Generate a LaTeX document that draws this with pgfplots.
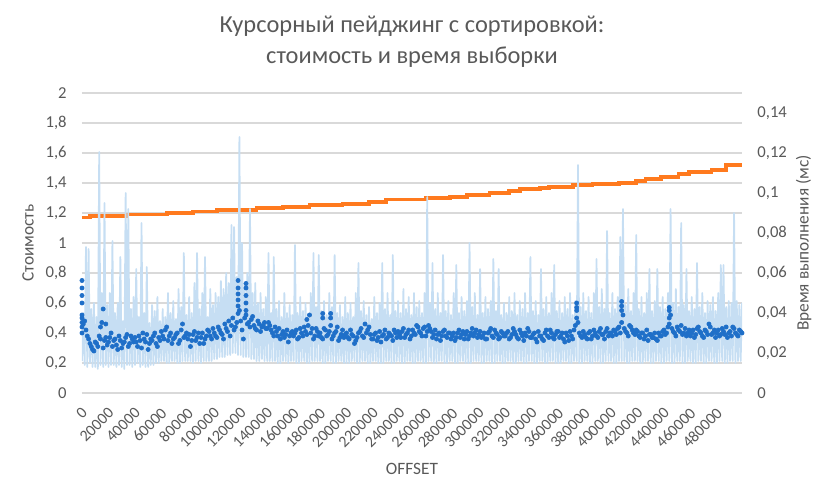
\documentclass[border=0pt]{standalone}
\usepackage{fontspec}
\setmainfont{Carlito}
\usepackage{pgfplots}
\pgfplotsset{compat=1.18}
\usetikzlibrary{calc}
\definecolor{txt}{HTML}{595959}
\definecolor{gridc}{HTML}{D9D9D9}
\definecolor{costline}{HTML}{FF7A1E}
\definecolor{timeband}{HTML}{C6DEF3}
\definecolor{timedots}{HTML}{1F6FC8}

% x in thousands of OFFSET
% cost (left axis), step line
\pgfplotstableread{
x y
0 1.17
6 1.18
34 1.19
64 1.20
84 1.21
102 1.22
132 1.233
152 1.24
172 1.253
197 1.26
217 1.273
230 1.29
260 1.30
278 1.307
291 1.32
308 1.333
323 1.347
331 1.36
346 1.367
353 1.373
371 1.387
386 1.393
406 1.40
419 1.413
426 1.427
438 1.44
451 1.46
459 1.473
476 1.487
487 1.52
499 1.52
}\cost

\pgfplotsset{
  base/.style={
    scale only axis, width=495pt, height=225pt,
    xmin=0, xmax=499,
    axis line style={draw=none}, major tick length=0pt,
    tick label style={font=\fontsize{12.5}{14}\selectfont, text=txt},
    label style={font=\fontsize{13}{15}\selectfont, text=txt},
    /pgf/number format/fixed,
    /pgf/number format/assume math mode=true,
    /pgf/number format/use comma,
    /pgf/number format/1000 sep={},
    scaled ticks=false,
  },
}

\begin{document}
\begin{tikzpicture}
\begin{axis}[base, name=ax,
  ymin=0, ymax=2,
  ytick={0,0.2,0.4,0.6,0.8,1,1.2,1.4,1.6,1.8,2},
  ymajorgrids, grid style={draw=gridc, line width=0.8pt},
  xtick={0,20,...,480},
  xticklabels={0,20000,40000,60000,80000,100000,120000,140000,160000,180000,200000,220000,240000,260000,280000,300000,320000,340000,360000,380000,400000,420000,440000,460000,480000},
  xticklabel style={font=\fontsize{12}{14}\selectfont, xshift=2pt, yshift=-13pt, rotate=45, anchor=east, inner sep=0pt},
  yticklabel style={xshift=-8pt},
  xlabel={OFFSET}, xlabel style={yshift=-7pt},
  ylabel={Стоимость}, ylabel style={yshift=2pt},
  title={Курсорный пейджинг с сортировкой:\\стоимость и время выборки},
  title style={font=\fontsize{18.3}{23}\selectfont, text=txt, align=center, yshift=10pt},
]
\addplot[costline, line width=2.8pt, const plot, mark=none] table {\cost};
\end{axis}
\begin{axis}[base,
  ymin=0, ymax=0.15,
  ytick={0,0.02,0.04,0.06,0.08,0.1,0.12,0.14},
  axis y line*=right, axis x line=none,
  yticklabel style={xshift=8pt},
  ylabel={Время выполнения (мс)},
]
% execution time, ms
\addplot[timeband, line width=1.3pt, mark=none, line join=round] coordinates {
(0,.016)(1,.04)(2,.014)(3,.073)(4,.013)(5,.072)(6,.015)(7,.042)(8,.013)(9,.045)(10,.013)(11,.038)(12,.012)(13,.1205)(14,.014)(15,.05)(16,.013)(17,.095)(18,.014)(19,.044)
(20,.013)(21,.05)(22,.014)(23,.076)(24,.014)(25,.04)(26,.013)(27,.045)(28,.014)(29,.068)(30,.013)(31,.036)(32,.012)(33,.10)(34,.014)(35,.092)(36,.014)(37,.042)(38,.013)(39,.048)
(40,.014)(41,.062)(42,.015)(43,.038)(44,.013)(45,.085)(46,.014)(47,.04)(48,.013)(49,.063)(50,.013)(51,.035)(52,.014)(53,.044)(54,.014)(55,.041)(56,.015)(57,.048)(58,.015)(59,.036)
(60,.016)(61,.042)(62,.016)(63,.038)(64,.015)(65,.05)(66,.015)(67,.04)(68,.016)(69,.046)(70,.016)(71,.037)(72,.015)(73,.052)(74,.015)(75,.043)(76,.016)(77,.07)(78,.016)(79,.039)
(80,.016)(81,.048)(82,.016)(83,.04)(84,.015)(85,.055)(86,.016)(87,.07)(88,.016)(89,.042)(90,.015)(91,.05)(92,.016)(93,.068)(94,.016)(95,.038)(96,.016)(97,.052)(98,.016)(99,.044)
(100,.017)(101,.05)(102,.017)(103,.048)(104,.018)(105,.056)(106,.018)(107,.052)(108,.018)(109,.06)(110,.019)(111,.055)(112,.019)(113,.084)(114,.02)(115,.083)(116,.02)(117,.058)(118,.019)(119,.128)
(120,.019)(121,.075)(122,.018)(123,.055)(124,.018)(125,.06)(126,.018)(127,.092)(128,.017)(129,.05)(130,.017)(131,.055)(132,.016)(133,.045)(134,.016)(135,.05)(136,.017)(137,.042)(138,.016)(139,.048)
(140,.016)(141,.07)(142,.016)(143,.04)(144,.016)(145,.068)(146,.016)(147,.042)(148,.015)(149,.046)(150,.015)(151,.038)(152,.016)(153,.05)(154,.016)(155,.04)(156,.015)(157,.044)(158,.016)(159,.039)
(160,.016)(161,.074)(162,.015)(163,.04)(164,.015)(165,.048)(166,.016)(167,.041)(168,.016)(169,.045)(170,.015)(171,.038)(172,.015)(173,.05)(174,.016)(175,.07)(176,.016)(177,.043)(178,.016)(179,.069)
(180,.016)(181,.041)(182,.015)(183,.046)(184,.015)(185,.039)(186,.016)(187,.05)(188,.016)(189,.043)(190,.015)(191,.069)(192,.015)(193,.04)(194,.016)(195,.044)(196,.016)(197,.038)(198,.015)(199,.048)
(200,.015)(201,.04)(202,.015)(203,.045)(204,.016)(205,.038)(206,.016)(207,.05)(208,.015)(209,.065)(210,.015)(211,.041)(212,.016)(213,.046)(214,.016)(215,.039)(216,.015)(217,.043)(218,.015)(219,.037)
(220,.016)(221,.048)(222,.016)(223,.04)(224,.015)(225,.045)(226,.015)(227,.065)(228,.015)(229,.042)(230,.016)(231,.05)(232,.016)(233,.039)(234,.015)(235,.069)(236,.015)(237,.041)(238,.016)(239,.046)
(240,.016)(241,.04)(242,.015)(243,.052)(244,.015)(245,.042)(246,.016)(247,.048)(248,.016)(249,.039)(250,.015)(251,.05)(252,.015)(253,.043)(254,.016)(255,.046)(256,.016)(257,.04)(258,.015)(259,.05)
(260,.015)(261,.098)(262,.016)(263,.045)(264,.016)(265,.065)(266,.015)(267,.042)(268,.015)(269,.05)(270,.016)(271,.04)(272,.016)(273,.069)(274,.015)(275,.041)(276,.015)(277,.046)(278,.016)(279,.039)
(280,.016)(281,.05)(282,.015)(283,.064)(284,.015)(285,.04)(286,.016)(287,.048)(288,.016)(289,.041)(290,.015)(291,.046)(292,.015)(293,.075)(294,.015)(295,.043)(296,.016)(297,.05)(298,.016)(299,.039)
(300,.016)(301,.062)(302,.015)(303,.04)(304,.015)(305,.048)(306,.016)(307,.042)(308,.016)(309,.046)(310,.015)(311,.067)(312,.015)(313,.041)(314,.016)(315,.062)(316,.016)(317,.039)(318,.015)(319,.045)
(320,.015)(321,.04)(322,.016)(323,.048)(324,.016)(325,.041)(326,.015)(327,.05)(328,.015)(329,.039)(330,.016)(331,.046)(332,.016)(333,.042)(334,.015)(335,.05)(336,.015)(337,.04)(338,.016)(339,.068)
(340,.016)(341,.041)(342,.015)(343,.046)(344,.015)(345,.039)(346,.016)(347,.062)(348,.016)(349,.042)(350,.015)(351,.048)(352,.015)(353,.04)(354,.016)(355,.05)(356,.016)(357,.064)(358,.015)(359,.041)
(360,.015)(361,.046)(362,.015)(363,.04)(364,.016)(365,.048)(366,.016)(367,.042)(368,.015)(369,.05)(370,.015)(371,.039)(372,.016)(373,.046)(374,.016)(375,.114)(376,.015)(377,.043)(378,.015)(379,.05)
(380,.016)(381,.041)(382,.016)(383,.048)(384,.015)(385,.04)(386,.015)(387,.05)(388,.016)(389,.067)(390,.016)(391,.043)(392,.015)(393,.052)(394,.015)(395,.042)(396,.016)(397,.081)(398,.016)(399,.04)
(400,.016)(401,.05)(402,.015)(403,.042)(404,.015)(405,.048)(406,.016)(407,.078)(408,.016)(409,.092)(410,.016)(411,.044)(412,.015)(413,.052)(414,.015)(415,.041)(416,.016)(417,.05)(418,.016)(419,.079)
(420,.016)(421,.042)(422,.015)(423,.048)(424,.015)(425,.04)(426,.016)(427,.05)(428,.016)(429,.062)(430,.015)(431,.041)(432,.015)(433,.046)(434,.016)(435,.062)(436,.016)(437,.043)(438,.015)(439,.048)
(440,.015)(441,.042)(442,.016)(443,.05)(444,.016)(445,.092)(446,.015)(447,.045)(448,.015)(449,.052)(450,.016)(451,.043)(452,.016)(453,.085)(454,.015)(455,.044)(456,.015)(457,.062)(458,.016)(459,.041)
(460,.016)(461,.048)(462,.015)(463,.042)(464,.015)(465,.065)(466,.016)(467,.043)(468,.016)(469,.05)(470,.015)(471,.04)(472,.015)(473,.046)(474,.016)(475,.044)(476,.016)(477,.048)(478,.015)(479,.041)
(480,.015)(481,.05)(482,.016)(483,.064)(484,.016)(485,.064)(486,.015)(487,.043)(488,.015)(489,.046)(490,.016)(491,.045)(492,.016)(493,.09)(494,.015)(495,.046)(496,.016)(497,.044)(498,.016)(499,.045)
};
\end{axis}
\begin{axis}[base, ymin=0, ymax=2, axis x line=none, axis y line=none]
\addplot[only marks, mark=*, mark size=1.6pt, timedots, draw=none] coordinates {
(0,.75)(0,.70)(0,.65)(0,.60)(0,.52)(0,.47)(0,.44)(0,.40)(0,.50)
(14,.44)(16,.56)(18,.46)
(118,.75)(118,.70)(118,.66)(118,.58)(118,.53)(124,.73)(124,.70)(124,.65)(124,.60)(124,.55)
(170,.49)(182,.53)(182,.50)(188,.53)(188,.50)
(374,.60)(374,.57)(374,.55)(408,.61)(408,.58)(408,.55)(444,.57)(444,.55)(444,.50)
(2,.48)(4,.38)(6,.33)(8,.29)(10,.34)(12,.31)(14,.36)(16,.30)(18,.37)
(20,.34)(22,.40)(24,.35)(26,.32)(28,.38)(30,.30)(32,.34)(34,.39)(36,.33)(38,.36)
(40,.37)(42,.31)(44,.35)(46,.40)(48,.34)(50,.29)(52,.36)(54,.38)(56,.33)(58,.37)
(60,.41)(62,.36)(64,.44)(66,.38)(68,.33)(70,.37)(72,.40)(74,.35)(76,.46)(78,.38)
(80,.36)(82,.31)(84,.39)(86,.35)(88,.40)(90,.37)(92,.33)(94,.38)(96,.41)(98,.36)
(100,.40)(102,.37)(104,.42)(106,.39)(108,.46)(110,.41)(112,.38)(114,.50)(116,.44)(118,.62)
(120,.48)(122,.36)(124,.52)(126,.47)(128,.49)(130,.45)(132,.42)(134,.46)(136,.44)(138,.47)
(140,.43)(142,.45)(144,.40)(146,.44)(148,.38)(150,.36)(152,.41)(154,.39)(156,.34)(158,.40)
(160,.38)(162,.42)(164,.37)(166,.40)(168,.44)(170,.39)(172,.52)(174,.43)(176,.38)(178,.41)
(180,.40)(182,.36)(184,.42)(186,.39)(188,.45)(190,.38)(192,.41)(194,.35)(196,.39)(198,.37)
(200,.40)(202,.36)(204,.39)(206,.33)(208,.37)(210,.41)(212,.38)(214,.46)(216,.42)(218,.39)
(220,.36)(222,.40)(224,.37)(226,.34)(228,.39)(230,.36)(232,.40)(234,.38)(236,.42)(238,.37)
(240,.39)(242,.41)(244,.37)(246,.40)(248,.36)(250,.42)(252,.39)(254,.44)(256,.40)(258,.43)
(260,.38)(262,.45)(264,.41)(266,.39)(268,.36)(270,.40)(272,.38)(274,.42)(276,.37)(278,.40)
(280,.38)(282,.35)(284,.40)(286,.37)(288,.41)(290,.39)(292,.36)(294,.40)(296,.38)(298,.42)
(300,.39)(302,.37)(304,.40)(306,.36)(308,.41)(310,.38)(312,.42)(314,.39)(316,.37)(318,.40)
(320,.38)(322,.41)(324,.37)(326,.43)(328,.39)(330,.36)(332,.40)(334,.35)(336,.38)(338,.41)
(340,.37)(342,.40)(344,.34)(346,.38)(348,.36)(350,.40)(352,.38)(354,.42)(356,.37)(358,.39)
(360,.41)(362,.38)(364,.36)(366,.40)(368,.35)(370,.38)(372,.42)(374,.50)(376,.40)(378,.37)
(380,.39)(382,.36)(384,.41)(386,.38)(388,.40)(390,.37)(392,.43)(394,.39)(396,.41)(398,.38)
(400,.40)(402,.42)(404,.39)(406,.44)(408,.47)(410,.43)(412,.40)(414,.45)(416,.42)(418,.39)
(420,.41)(422,.37)(424,.40)(426,.38)(428,.35)(430,.39)(432,.37)(434,.36)(436,.40)(438,.38)
(440,.42)(442,.40)(444,.46)(446,.43)(448,.40)(450,.44)(452,.41)(454,.39)(456,.43)(458,.40)
(460,.38)(462,.42)(464,.39)(466,.44)(468,.40)(470,.37)(472,.41)(474,.46)(476,.39)(478,.42)
(480,.40)(482,.38)(484,.43)(486,.39)(488,.37)(490,.41)(492,.44)(494,.40)(496,.38)(498,.41)
(1,.46)(3,.42)(5,.36)(7,.31)(9,.28)(11,.33)(13,.38)(15,.47)(17,.35)(19,.32)
(21,.37)(23,.31)(25,.36)(27,.29)(29,.35)(31,.33)(33,.37)(35,.31)(37,.38)(39,.34)
(41,.34)(43,.38)(45,.30)(47,.36)(49,.39)(51,.33)(53,.35)(55,.40)(57,.31)(59,.35)
(61,.38)(63,.42)(65,.35)(67,.40)(69,.36)(71,.39)(73,.33)(75,.42)(77,.37)(79,.40)
(81,.39)(83,.35)(85,.41)(87,.37)(89,.33)(91,.40)(93,.36)(95,.42)(97,.38)(99,.43)
(101,.38)(103,.44)(105,.40)(107,.36)(109,.43)(111,.48)(113,.45)(115,.42)(117,.47)(119,.55)
(121,.42)(123,.50)(125,.46)(127,.44)(129,.51)(131,.43)(133,.48)(135,.41)(137,.45)(139,.43)
(141,.47)(143,.42)(145,.38)(147,.41)(149,.43)(151,.39)(153,.37)(155,.42)(157,.38)(159,.41)
(161,.40)(163,.36)(165,.43)(167,.38)(169,.41)(171,.45)(173,.40)(175,.36)(177,.43)(179,.38)
(181,.37)(183,.43)(185,.38)(187,.41)(189,.36)(191,.40)(193,.44)(195,.37)(197,.42)(199,.39)
(201,.37)(203,.42)(205,.38)(207,.35)(209,.40)(211,.43)(213,.37)(215,.40)(217,.44)(219,.36)
(221,.39)(223,.35)(225,.41)(227,.38)(229,.42)(231,.37)(233,.39)(235,.35)(237,.40)(239,.41)
(241,.37)(243,.43)(245,.39)(247,.42)(249,.38)(251,.40)(253,.45)(255,.41)(257,.38)(259,.44)
(261,.41)(263,.43)(265,.37)(267,.42)(269,.39)(271,.35)(273,.41)(275,.38)(277,.40)(279,.36)
(281,.40)(283,.37)(285,.42)(287,.39)(289,.36)(291,.41)(293,.38)(295,.43)(297,.40)(299,.37)
(301,.41)(303,.38)(305,.36)(307,.40)(309,.43)(311,.37)(313,.40)(315,.36)(317,.41)(319,.38)
(321,.40)(323,.36)(325,.39)(327,.41)(329,.37)(331,.42)(333,.38)(335,.40)(337,.43)(339,.37)
(341,.39)(343,.36)(345,.41)(347,.38)(349,.35)(351,.42)(353,.37)(355,.40)(357,.36)(359,.41)
(361,.37)(363,.40)(365,.34)(367,.38)(369,.41)(371,.36)(373,.45)(375,.47)(377,.38)(379,.41)
(381,.37)(383,.40)(385,.36)(387,.42)(389,.38)(391,.41)(393,.39)(395,.36)(397,.43)(399,.40)
(401,.38)(403,.41)(405,.43)(407,.40)(409,.52)(411,.41)(413,.38)(415,.44)(417,.40)(419,.42)
(421,.38)(423,.40)(425,.36)(427,.42)(429,.39)(431,.37)(433,.40)(435,.35)(437,.38)(439,.41)
(441,.39)(443,.44)(445,.52)(447,.41)(449,.38)(451,.42)(453,.45)(455,.40)(457,.38)(459,.42)
(461,.40)(463,.37)(465,.43)(467,.41)(469,.38)(471,.42)(473,.39)(475,.44)(477,.40)(479,.37)
(481,.42)(483,.39)(485,.41)(487,.44)(489,.40)(491,.38)(493,.43)(495,.39)(497,.42)(499,.40)
};
\end{axis}
\path ($(ax.south west)+(-61.5pt,-80.25pt)$) rectangle ($(ax.north east)+(68.25pt,69.75pt)$);
\end{tikzpicture}
\end{document}
